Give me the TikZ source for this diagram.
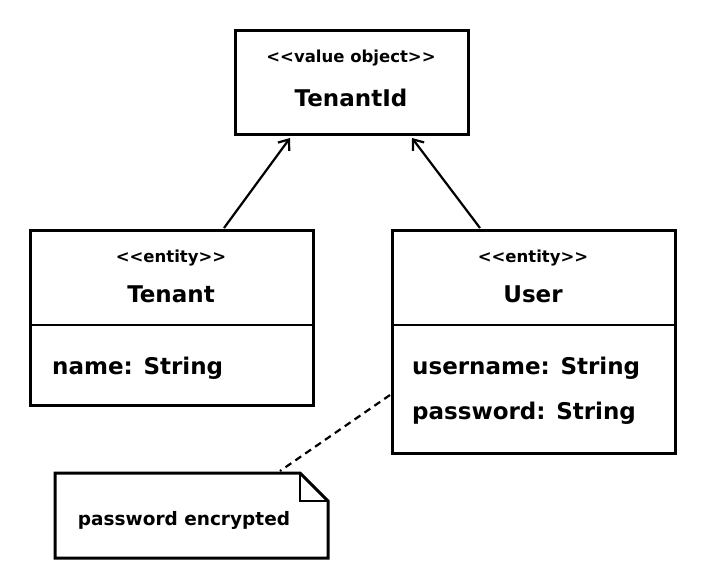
\documentclass[tikz,border=0pt]{standalone}
\usepackage{fontspec}
\setmainfont{DejaVu Sans}[Ligatures=NoCommon]
\usetikzlibrary{arrows.meta}
\begin{document}
\begin{tikzpicture}[x=1pt,y=-1pt,
  box/.style={draw,line width=3pt,fill=white},
  conn/.style={line width=2.2pt},
  txt/.style={inner sep=0pt},
  stereo/.style={txt,font=\bfseries\fontsize{16.5}{20}\selectfont},
  cname/.style={txt,font=\bfseries\fontsize{23}{27}\selectfont},
  attr/.style={txt,anchor=west,font=\bfseries\fontsize{23}{27}\selectfont},
  notetxt/.style={txt,font=\bfseries\fontsize{18.5}{22}\selectfont}]
\useasboundingbox (0,0) rectangle (708,582);
% TenantId
\draw[box] (235,30) rectangle (468,134);
\node[stereo] (tidst) at (351,58) {<{}<value object>{}>};
\node[cname] (tid) at (351,98) {TenantId};
\coordinate (tidA) at (290,138);
\coordinate (tidB) at (412,138);
% Tenant
\draw[box] (30,230) rectangle (313,405);
\draw[line width=2.4pt] (30,325) -- (313,325);
\node[stereo] (tst) at (171,258) {<{}<entity>{}>};
\node[cname] (tn) at (171,294) {Tenant};
\node[attr] (tattr) at (52,368) {name: String};
\coordinate (tTop) at (224,228);
% User
\draw[box] (392,230) rectangle (675,453);
\draw[line width=2.4pt] (392,325) -- (675,325);
\node[stereo] (ust) at (533,258) {<{}<entity>{}>};
\node[cname] (un) at (533,294) {User};
\node[attr] (ua1) at (412,368) {username: String};
\node[attr] (ua2) at (412,413) {password: String};
\coordinate (uTop) at (480,228);
\coordinate (uLeft) at (390,395);
% Note
\draw[box] (55,473) -- (300,473) -- (328,501) -- (328,558) -- (55,558) -- cycle;
\draw[line width=2.4pt] (300,473) -- (300,501) -- (328,501);
\node[notetxt] (nt) at (184,520) {password encrypted};
\coordinate (nTop) at (280,471);
% connectors
\draw[conn,-{Straight Barb[length=9pt,width=14pt,line width=2.2pt]}] (tTop) -- (tidA);
\draw[conn,-{Straight Barb[length=9pt,width=14pt,line width=2.2pt]}] (uTop) -- (tidB);
\draw[conn,dash pattern=on 7pt off 5pt] (uLeft) -- (nTop);
\end{tikzpicture}
\end{document}
